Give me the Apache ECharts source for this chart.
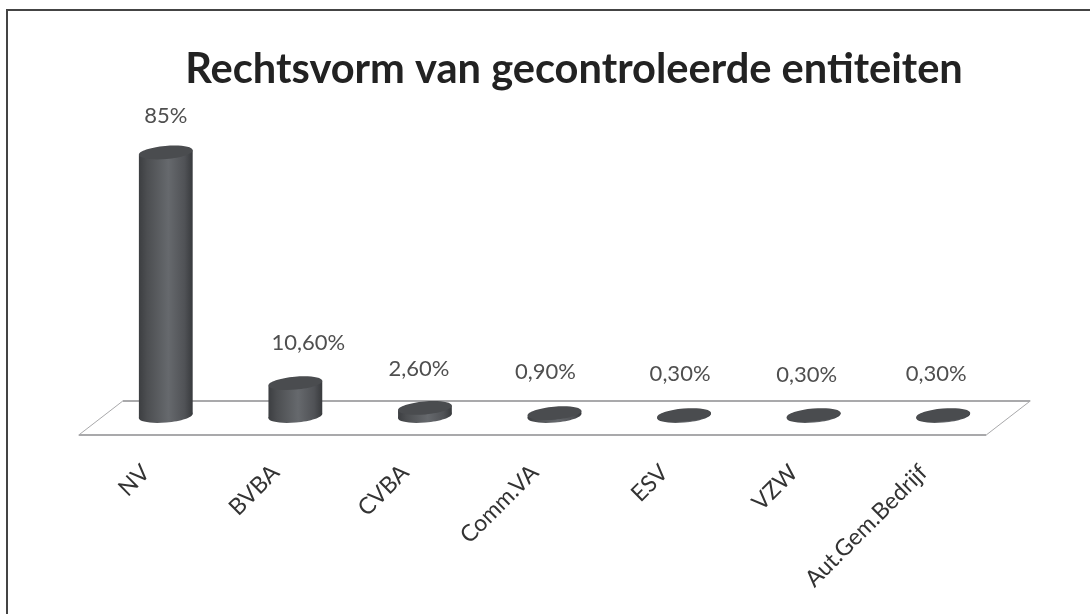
<!DOCTYPE html>
<html>
<head>
<meta charset="utf-8">
<style>
  html, body { margin: 0; padding: 0; background: #fff; }
  #chart { width: 1090px; height: 614px; }
</style>
<script src="https://cdn.jsdelivr.net/npm/echarts@6/dist/echarts.min.js"></script>
</head>
<body>
<div id="chart"></div>
<script>
const titleText = 'Rechtsvorm van gecontroleerde entiteiten';
const categories = ['NV', 'BVBA', 'CVBA', 'Comm.VA', 'ESV', 'VZW', 'Aut.Gem.Bedrijf'];
const values = [85, 10.6, 2.6, 0.9, 0.3, 0.3, 0.3];
const valueLabels = ['85%', '10,60%', '2,60%', '0,90%', '0,30%', '0,30%', '0,30%'];
// the labels in the picture are not quite centred over their bars
const labelShift = [0, 13, -6, -9, -4, -7, -7];
const labelRise = [37, 40, 39, 41, 41, 40, 41];

const FONT = 'Lato';
const TILT = -5 * Math.PI / 180;
const RX = 27;
const RY = 6.5;

const chart = echarts.init(document.getElementById('chart'));

function cylinder(params, api) {
  const i = api.value(0);
  const base = api.coord([i, 0]);
  const top = api.coord([i, api.value(1)]);
  const dx = RX * Math.cos(TILT);
  const dy = RX * Math.sin(TILT);
  const shade = new echarts.graphic.LinearGradient(0, 0, 1, 0, [
    { offset: 0, color: '#3c3e41' },
    { offset: 0.15, color: '#4c4e51' },
    { offset: 0.55, color: '#66696d' },
    { offset: 0.85, color: '#505256' },
    { offset: 1, color: '#383a3d' }
  ]);
  const ellipse = (c, fill) => ({
    type: 'ellipse',
    shape: { cx: c[0], cy: c[1], rx: RX, ry: RY },
    rotation: -TILT,
    originX: c[0],
    originY: c[1],
    style: { fill: fill }
  });
  return {
    type: 'group',
    children: [
      ellipse(base, shade),
      {
        type: 'polygon',
        shape: { points: [
          [top[0] - dx, top[1] - dy],
          [top[0] + dx, top[1] + dy],
          [base[0] + dx, base[1] + dy],
          [base[0] - dx, base[1] - dy]
        ] },
        style: { fill: shade }
      },
      ellipse(top, '#4a4c4f'),
      {
        type: 'text',
        x: top[0] + labelShift[i],
        y: top[1] - labelRise[i],
        style: {
          text: valueLabels[i],
          font: '22px ' + FONT,
          fill: '#4f4f4f',
          align: 'center',
          verticalAlign: 'middle'
        }
      }
    ]
  };
}

// floor plate, hung off the first and last category
function floor(params, api) {
  const left = api.coord([0, 0]);
  const right = api.coord([categories.length - 1, 0]);
  const line = (a, b, w) => ({
    type: 'line',
    shape: { x1: a[0], y1: a[1], x2: b[0], y2: b[1] },
    style: { stroke: '#a9a9ab', lineWidth: w }
  });
  const backL = [left[0] - 43, left[1] - 15];
  const backR = [right[0] + 87, right[1] - 15];
  const frontL = [left[0] - 87, left[1] + 19];
  const frontR = [right[0] + 43, right[1] + 19];
  return {
    type: 'group',
    children: [
      line(backL, backR, 2),
      line(frontL, frontR, 2),
      line(backL, frontL, 1),
      line(backR, frontR, 1)
    ]
  };
}

chart.setOption({
  animation: false,
  backgroundColor: '#fff',
  title: {
    text: titleText,
    left: 569,
    top: 44,
    textAlign: 'center',
    textStyle: { fontFamily: FONT, fontSize: 41.6, fontWeight: 'bold', color: '#222' }
  },
  grid: { left: 101, right: 82, top: 106, bottom: 198 },
  xAxis: {
    type: 'category',
    data: categories,
    axisLine: { show: false },
    axisTick: { show: false },
    axisLabel: {
      interval: 0,
      rotate: 45,
      margin: 33,
      align: 'right',
      verticalAlign: 'middle',
      padding: [0, 28, 0, 0],
      fontFamily: FONT,
      fontSize: 23,
      color: '#333'
    }
  },
  yAxis: { type: 'value', min: 0, max: 100, show: false },
  graphic: [{
    type: 'polyline',
    silent: true,
    shape: { points: [[7, 614], [7, 10], [1090, 10]] },
    style: { fill: 'none', stroke: '#444', lineWidth: 2 }
  }],
  series: [
    {
      type: 'custom',
      silent: true,
      z: 1,
      data: [[0, 0]],
      renderItem: floor
    },
    {
      type: 'custom',
      z: 2,
      encode: { x: 0, y: 1 },
      data: values.map((v, i) => [i, v]),
      renderItem: cylinder
    }
  ]
});
</script>
</body>
</html>
